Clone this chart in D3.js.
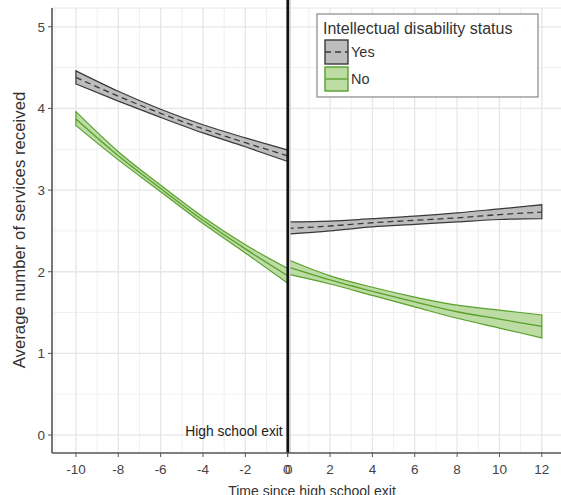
<!DOCTYPE html>
<html lang="en">
<head>
<meta charset="utf-8">
<title>Services after high school exit</title>
<script src="https://cdn.jsdelivr.net/npm/d3@7"></script>
<style>
  body { margin: 0; background: #fff; }
  text { font-family: "Liberation Sans", Arial, sans-serif; }
</style>
</head>
<body>
<script>
// time points (years since high school exit)
var x_pre = [-10, -8, -6, -4, -2, 0];
var x_post = [0, 2, 4, 6, 8, 10, 12];

// intellectual disability: yes
var yes_pre_mid = [4.38, 4.15, 3.94, 3.75, 3.58, 3.42];
var yes_pre_lo  = [4.30, 4.09, 3.89, 3.70, 3.53, 3.35];
var yes_pre_hi  = [4.46, 4.21, 3.99, 3.80, 3.64, 3.49];
var yes_post_mid = [2.53, 2.56, 2.60, 2.63, 2.66, 2.70, 2.73];
var yes_post_lo  = [2.46, 2.50, 2.55, 2.58, 2.61, 2.64, 2.65];
var yes_post_hi  = [2.61, 2.62, 2.65, 2.68, 2.72, 2.77, 2.82];

// intellectual disability: no
var no_pre_mid = [3.87, 3.42, 3.02, 2.63, 2.28, 1.95];
var no_pre_lo  = [3.79, 3.37, 2.98, 2.59, 2.23, 1.86];
var no_pre_hi  = [3.96, 3.47, 3.06, 2.67, 2.33, 2.04];
var no_post_mid = [2.06, 1.90, 1.76, 1.63, 1.51, 1.42, 1.33];
var no_post_lo  = [1.97, 1.85, 1.71, 1.57, 1.43, 1.31, 1.19];
var no_post_hi  = [2.15, 1.95, 1.81, 1.69, 1.59, 1.53, 1.47];

var x_ticks = [-10, -8, -6, -4, -2, 0, 0, 2, 4, 6, 8, 10, 12];
var y_ticks = [0, 1, 2, 3, 4, 5];
var legend_labels = ["Yes", "No"];

var width = 561, height = 495;
var svg = d3.select("body").append("svg")
    .attr("width", width).attr("height", height);

var x = d3.scaleLinear().domain([-11.13, 13.0]).range([52, 563]);
var y = d3.scaleLinear().domain([-0.22, 5.23]).range([453, 8]);

// grid
var grid = svg.append("g");
d3.range(-11, 14, 2).forEach(function(v) {
    grid.append("line").attr("x1", x(v)).attr("x2", x(v)).attr("y1", 8).attr("y2", 453)
        .attr("stroke", "#f0f0f0").attr("stroke-width", 1);
});
[0.5, 1.5, 2.5, 3.5, 4.5].forEach(function(v) {
    grid.append("line").attr("x1", 52).attr("x2", width).attr("y1", y(v)).attr("y2", y(v))
        .attr("stroke", "#f0f0f0").attr("stroke-width", 1);
});
d3.range(-10, 13, 2).forEach(function(v) {
    grid.append("line").attr("x1", x(v)).attr("x2", x(v)).attr("y1", 8).attr("y2", 453)
        .attr("stroke", "#e6e6e6").attr("stroke-width", 1.3);
});
y_ticks.forEach(function(v) {
    grid.append("line").attr("x1", 52).attr("x2", width).attr("y1", y(v)).attr("y2", y(v))
        .attr("stroke", "#e6e6e6").attr("stroke-width", 1.3);
});
grid.append("line").attr("x1", 52).attr("x2", width).attr("y1", 8).attr("y2", 8)
    .attr("stroke", "#e6e6e6");

// ribbons + centre lines
function draw_band(xs, lo, hi, mid, fill, stroke, dash) {
    var pts = xs.map(function(d, i) { return {x: d, lo: lo[i], hi: hi[i], mid: mid[i]}; });
    var area = d3.area().curve(d3.curveMonotoneX)
        .x(function(d) { return x(d.x); })
        .y0(function(d) { return y(d.lo); })
        .y1(function(d) { return y(d.hi); });
    var line = d3.line().curve(d3.curveMonotoneX)
        .x(function(d) { return x(d.x); })
        .y(function(d) { return y(d.mid); });
    svg.append("path").attr("d", area(pts))
        .attr("fill", fill).attr("stroke", stroke).attr("stroke-width", 1.2);
    svg.append("path").attr("d", line(pts))
        .attr("fill", "none").attr("stroke", stroke).attr("stroke-width", 1.3)
        .attr("stroke-dasharray", dash);
}
var gray_fill = "#bdbdbd", gray_line = "#3a3a3a";
var green_fill = "#bcdca4", green_line = "#58a02c";
draw_band(x_pre, yes_pre_lo, yes_pre_hi, yes_pre_mid, gray_fill, gray_line, "6,4");
draw_band(x_post, yes_post_lo, yes_post_hi, yes_post_mid, gray_fill, gray_line, "6,4");
draw_band(x_pre, no_pre_lo, no_pre_hi, no_pre_mid, green_fill, green_line, null);
draw_band(x_post, no_post_lo, no_post_hi, no_post_mid, green_fill, green_line, null);

// high school exit marker
svg.append("line").attr("x1", x(0) + 2).attr("x2", x(0) + 2).attr("y1", 0).attr("y2", 453)
    .attr("stroke", "#c8c8c8").attr("stroke-width", 2);
svg.append("line").attr("x1", x(0)).attr("x2", x(0)).attr("y1", 0).attr("y2", 453)
    .attr("stroke", "#111").attr("stroke-width", 2.6);
svg.append("text").attr("x", x(0) - 5).attr("y", y(0) + 1)
    .attr("text-anchor", "end").attr("font-size", 13.8).attr("fill", "#222")
    .text("High school exit");

// axes
var xAxis = svg.append("g").attr("transform", "translate(0,453)");
xAxis.append("line").attr("x1", 52).attr("x2", width).attr("stroke", "#555").attr("stroke-width", 1.6);
x_ticks.forEach(function(v, i) {
    var off = (v === 0) ? (i === 5 ? -1 : 1) : 0;
    xAxis.append("line").attr("x1", x(v)).attr("x2", x(v)).attr("y1", 0).attr("y2", 4)
        .attr("stroke", "#555");
    xAxis.append("text").attr("x", x(v) + off).attr("y", 21).attr("text-anchor", "middle")
        .attr("font-size", 13.5).attr("fill", "#444").text(v);
});
var yAxis = svg.append("g");
yAxis.append("line").attr("x1", 52).attr("x2", 52).attr("y1", 8).attr("y2", 453)
    .attr("stroke", "#555").attr("stroke-width", 1.6);
y_ticks.forEach(function(v) {
    yAxis.append("line").attr("x1", 48).attr("x2", 52).attr("y1", y(v)).attr("y2", y(v))
        .attr("stroke", "#555");
    yAxis.append("text").attr("x", 45).attr("y", y(v) + 5).attr("text-anchor", "end")
        .attr("font-size", 13.5).attr("fill", "#444").text(v);
});

// axis titles
svg.append("text").attr("x", 312).attr("y", 496).attr("text-anchor", "middle")
    .attr("font-size", 14).attr("fill", "#333").text("Time since high school exit");
svg.append("text").attr("transform", "translate(25,230) rotate(-90)")
    .attr("text-anchor", "middle").attr("font-size", 16.8).attr("fill", "#333")
    .text("Average number of services received");

// legend
var lg = svg.append("g");
lg.append("rect").attr("x", 317).attr("y", 14).attr("width", 221).attr("height", 83)
    .attr("fill", "#fff").attr("stroke", "#888").attr("stroke-width", 1.2);
lg.append("text").attr("x", 323).attr("y", 34).attr("font-size", 16).attr("fill", "#333")
    .text("Intellectual disability status");
var keys = [[gray_fill, gray_line, "6,4"], [green_fill, green_line, null]];
legend_labels.forEach(function(lab, i) {
    var ky = 40 + i * 27;
    lg.append("rect").attr("x", 325).attr("y", ky).attr("width", 23).attr("height", 24)
        .attr("fill", keys[i][0]).attr("stroke", keys[i][1]).attr("stroke-width", 1.4);
    lg.append("line").attr("x1", 325).attr("x2", 348).attr("y1", ky + 12).attr("y2", ky + 12)
        .attr("stroke", keys[i][1]).attr("stroke-width", 1.3).attr("stroke-dasharray", keys[i][2]);
    lg.append("text").attr("x", 351).attr("y", ky + 17).attr("font-size", 14.5).attr("fill", "#333")
        .text(lab);
});
</script>
</body>
</html>
